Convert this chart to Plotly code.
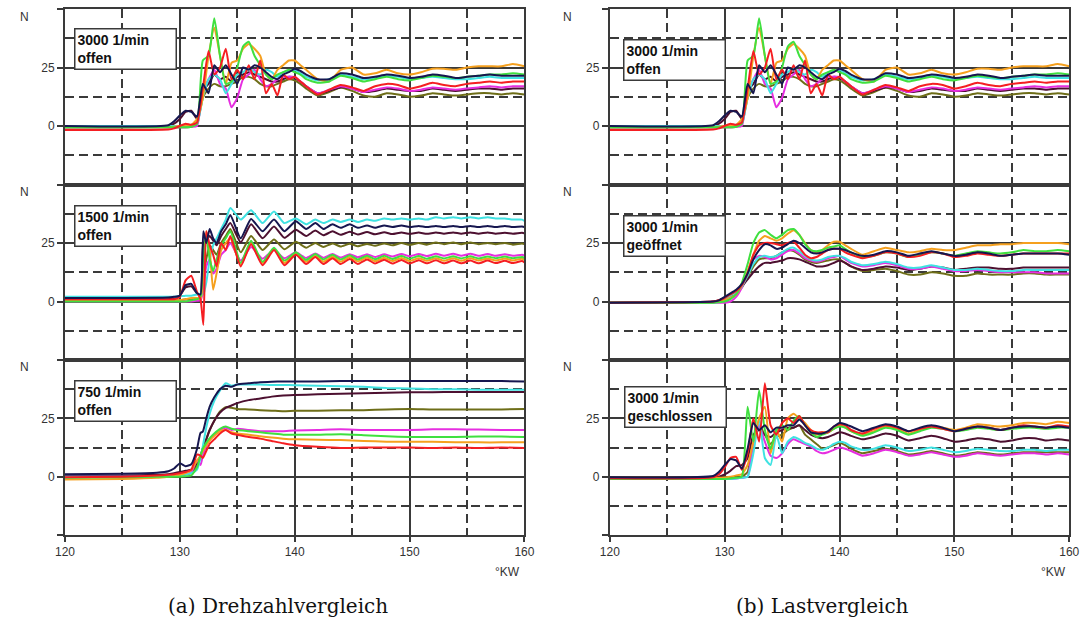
import plotly.graph_objects as go

W, H = 1091, 623

# ---------------- x grids (°KW) ----------------
X_A = [120, 129, 129.5, 130, 130.5, 131, 131.5, 132, 132.5, 133, 133.5, 134, 134.5, 135, 135.5,
       136, 136.5, 137, 137.5, 138, 138.5, 139, 139.5, 140, 140.5, 141, 142, 143, 144, 145,
       146, 147, 148, 149, 150, 151, 152, 153, 154, 155, 156, 157, 158, 159, 160]
X_B = [120, 129, 129.5, 130, 130.5, 131, 131.5, 131.8, 132.05, 132.3, 132.6, 132.9, 133.2, 133.6, 134.0,
       134.4, 135.3, 136.2, 137.2, 138.2, 139.1, 140.1, 141.0, 141.8, 142.5, 143.3, 144.0, 144.8, 145.5,
       146.3, 147.0, 147.8, 148.5, 149.3, 150.0, 150.8, 151.5, 152.3, 153.0, 153.8, 154.5, 155.3, 156.0,
       156.8, 157.5, 158.3, 159.0, 159.8, 160]
X_C = [120, 125, 128, 129, 129.5, 130, 130.5, 131, 131.5, 131.8, 132, 132.3, 132.6, 133, 133.5, 134,
       134.5, 135, 136, 137, 138, 139, 140, 142, 144, 146, 148, 150, 152, 154, 156, 158, 160]

# ---------------- 3000 1/min offen (grid A) ----------------
D3000_NAVY = [0, 0.3, 2, 4.5, 6.5, 6, 4, 18, 14, 26, 23, 26, 22, 18, 25, 24, 26, 25, 23, 21, 20, 22, 23,
              24.5, 23.5, 22, 20, 20, 22.5, 22, 20.5, 21, 22, 21.5, 20.5, 21, 22, 21.5, 20.5, 21, 21.5,
              22, 21.5, 21.5, 21.5]
D3000_ORANGE = [-0.5, -0.5, -0.3, 0, 0.3, 0.5, 3, 12, 30, 42, 30, 18, 27, 28, 33, 35, 33, 30, 22, 20, 24,
                26, 28, 28, 26, 24, 20, 19, 24, 25, 22, 22.5, 24, 22.5, 22, 23, 24.5, 24.5, 24, 25, 25.5,
                25.5, 25.5, 26.5, 25.5]
D3000_GREEN = [-0.5, -0.5, -0.5, -0.5, -0.5, -0.3, 1, 28, 30, 46, 30, 18, 19, 25, 34, 36, 30, 26, 22, 20,
               22, 23, 24, 23, 22, 20, 18.5, 19, 21.5, 20.5, 19, 20, 21, 20, 19.5, 20.5, 21.5, 21, 20.5,
               21, 21.5, 22, 22, 22.5, 22]
D3000_CYAN = [0, 0, 0, 0, 0.3, 0.5, 1, 12, 20, 22, 20, 14, 18, 22, 23, 25, 23, 22, 24, 23, 21, 23, 23.5,
              24, 22.5, 21, 19.5, 20, 22, 21, 20, 20.5, 21.5, 21, 20, 20.5, 21, 20.5, 20, 20, 20.5, 21,
              20.5, 20.5, 20.5]
D3000_RED = [-1.7, -1.5, -1, 0, 1, 0.5, 1.5, 16, 32, 22, 25, 33, 20, 24, 20, 26, 20, 28, 14, 18, 13, 22,
             20, 21, 19, 17, 13.5, 15.5, 17.5, 16.5, 15, 17, 18, 17.5, 16, 17, 18.5, 17.5, 17, 18, 18.5,
             19, 18.5, 19, 19]
D3000_MAGENTA = [-0.5, -0.5, -0.5, -0.5, -0.5, -0.3, 0, 15, 20, 24, 18, 16, 8, 12, 20, 22, 24, 20, 17, 18,
                 20, 21, 21, 21, 19, 17, 14, 15.5, 17, 16, 14.5, 15.5, 16.5, 16, 15, 15.5, 16.5, 16, 15.5,
                 16, 16.5, 17, 16.5, 17, 17]
D3000_MAROON = [-0.5, 0, 1, 3, 6, 6.5, 3, 15, 18, 22, 20, 21, 19, 21, 22, 23, 22, 21, 20, 19, 19, 20, 21,
                20.5, 19, 17, 14, 15, 16.5, 16, 14.5, 15, 16, 15.5, 15, 15, 16, 15.5, 15, 15.5, 16, 16,
                15.5, 16, 16]
D3000_OLIVE = [-0.5, -0.5, -0.5, -0.5, -0.5, -0.3, 1, 12, 16, 18, 17, 17, 18, 19, 21, 21, 20, 18, 17, 17,
               18, 19, 20, 19.5, 18, 16, 13, 14.5, 16.5, 15, 13, 12.5, 14, 13.5, 12.5, 13, 14, 13.5, 13,
               13.5, 14, 14, 13.5, 14, 13.5]

# ---------------- 1500 1/min offen (grid B) ----------------
D1500_NAVY = [1.5, 1.7, 2, 2.5, 7, 7.5, 3.5, 3, 30, 25, 31, 27, 25, 30, 33,
              37, 27, 35.3, 30, 35, 30, 34.3, 31, 33.5, 31, 33, 31.5, 33, 31.5, 32.5, 31.5, 32.5, 31.8,
              32.5, 31.8, 32.3, 31.8, 32.3, 31.8, 32.3, 31.8, 32.3, 31.8, 32.3, 31.8, 32.3, 31.8, 32, 31.8]
D1500_CYAN = [2, 2, 2, 2.2, 2.5, 2.5, 3, 3, 3, 8, 18, 24, 27, 31, 35,
              40, 35, 39, 33.5, 38.5, 33.5, 35.5, 33, 35, 33.5, 35, 34, 35, 34, 35, 34.5, 35.5, 35, 35.5,
              35, 35.5, 35, 36, 35.5, 36, 35.5, 36, 35.5, 36, 35.5, 35.5, 35, 35, 34.5]
D1500_MAROON = [1, 1, 1.5, 2.5, 6, 6.5, 3.5, 2.5, 25, 26, 28, 26, 24, 28, 31,
                33.5, 25.3, 33, 27, 32, 27.2, 30.7, 28, 30.3, 28.3, 30, 28.5, 29.8, 28.6, 29.7, 28.7,
                29.6, 28.8, 29.5, 28.9, 29.5, 28.9, 29.5, 29, 29.5, 29, 29.5, 29, 29.5, 29, 29.4, 29,
                29.4, 29.2]
D1500_OLIVE = [0.5, 0.5, 0.5, 0.5, 1, 1, 1, 1.5, 10, 18, 24, 22, 20, 25, 28,
               31, 21, 28, 22, 26.5, 22.3, 25.5, 23, 25, 23.3, 24.8, 23.5, 24.7, 23.6, 24.6, 23.8, 24.8,
               24, 25, 24.2, 25, 24.3, 25.2, 24.5, 25.2, 24.5, 25.2, 24.5, 25, 24.5, 25, 24.3, 24.8, 24.5]
D1500_MAGENTA = [0, 0, 0, 0, 0, 0, 0.3, 0.5, 5, 15, 18, 12, 14, 20, 22,
                 25, 17.5, 23.3, 18.3, 22, 18.5, 21, 18.6, 20.5, 18.7, 20.3, 18.8, 20.2, 18.9, 20.2, 19,
                 20.2, 19.2, 20.3, 19.3, 20.3, 19.4, 20.4, 19.5, 20.4, 19.5, 20.4, 19.5, 20.3, 19.5, 20.2,
                 19.5, 20, 19.6]
D1500_GREEN = [0, 0, 0, 0, 0, 0.5, 1, 2, 20, 28, 18, 13, 18, 24, 27,
               30, 16.5, 26, 17, 23, 17.5, 21, 17.8, 20.3, 18, 20, 18, 19.8, 18, 19.6, 18.1, 19.5, 18.2,
               19.4, 18.3, 19.4, 18.3, 19.3, 18.4, 19.3, 18.4, 19.3, 18.4, 19.2, 18.5, 19.2, 18.5, 19, 18.6]
D1500_ORANGE = [0.5, 0.5, 0.5, 0.5, 1, 1.5, 1.5, 1, 10, 30, 22, 5, 12, 22, 25,
                27, 15.5, 25, 16.5, 22.5, 16.5, 20.5, 17, 19.5, 17, 19.2, 17, 19, 17.1, 18.8, 17.2, 18.7,
                17.3, 18.6, 17.3, 18.5, 17.4, 18.5, 17.4, 18.5, 17.4, 18.5, 17.5, 18.4, 17.5, 18.4, 17.5,
                18.3, 17.8]
D1500_RED = [1, 1, 1, 2, 9, 11, 4, 1, -10, 30, 24, 20, 15, 25, 22,
             28, 15, 24.5, 15.5, 22, 15.5, 20, 16, 19, 16, 18.5, 16, 18.2, 16, 18, 16.2, 17.8, 16.2, 17.7,
             16.2, 17.6, 16.3, 17.6, 16.3, 17.5, 16.3, 17.5, 16.3, 17.5, 16.4, 17.4, 16.4, 17.3, 16.7]

# ---------------- 750 1/min offen (grid C) ----------------
D750_NAVY = [1, 1.3, 1.7, 2.3, 3.5, 5.7, 4.5, 5.3, 12, 18.8, 19.3, 25, 30, 34, 37.5, 39, 38.5, 39.5, 40,
             40.5, 40.7, 40.8, 40.8, 40.8, 41, 41, 41, 41, 41, 41, 41, 41, 40.8]
D750_CYAN = [0, 0, 0, 0.2, 0.3, 0.5, 1, 1.5, 3, 8, 13, 21, 27, 32.5, 37, 40, 39, 39.5, 39.5, 39.5, 39.3,
             39.3, 39.2, 39, 38.8, 38.5, 38, 37.8, 37.5, 37.5, 37.3, 37.3, 37.3]
D750_MAROON = [0.3, 0.5, 0.8, 1, 1.5, 2, 2.5, 3, 6, 9, 12, 16, 20, 24, 27.5, 29.5, 30.5, 31.5, 32.8, 33.5,
               34.3, 34.8, 35, 35.3, 35.5, 35.8, 36, 36.2, 36.2, 36.3, 36.3, 36.3, 36.3]
D750_OLIVE = [-0.3, 0, 0, 0, 0.2, 0.5, 1, 1.5, 5, 8.5, 12, 16, 20, 24, 28, 29.8, 29.5, 29, 28.8, 28.5,
              28.3, 28, 28.2, 28.3, 28.5, 28.5, 28.8, 29, 28.8, 28.8, 28.8, 28.8, 29]
D750_MAGENTA = [0, 0, 0, 0.2, 0.3, 0.5, 1, 2, 7, 5, 9, 13, 16, 18, 20, 21, 20, 20.5, 20, 19.5, 19.5, 19.5,
                19.8, 20, 20.3, 20, 20, 20, 20.3, 20.3, 20.2, 20, 20]
D750_GREEN = [-0.5, -0.3, 0, 0, 0, 0, 0.2, 0.5, 4, 9, 12, 14.5, 16.5, 18.5, 20.5, 21.5, 20.5, 20, 19.5, 19,
              18.5, 18, 18, 18, 18.2, 17.8, 17.3, 17, 17, 17, 17.2, 17.2, 17]
D750_ORANGE = [-1.2, -1, -0.5, 0, 0.3, 0.8, 1.5, 3, 7, 9, 11, 13.5, 15.5, 17.5, 19.5, 20, 19, 18.5, 18,
               17.3, 16.8, 16.3, 16, 15.8, 15.7, 15.3, 15, 15, 15, 14.8, 14.7, 14.7, 14.7]
D750_RED = [-0.3, 0, 0.5, 0.8, 1, 1.5, 2, 3, 9.5, 9, 8, 11, 14, 16, 18.5, 20, 18.5, 18, 17, 16.3, 15.3,
            14.3, 13.5, 12.8, 12.3, 12.5, 12.5, 12.5, 12.3, 12.5, 12.3, 12.5, 12.3]

# ---------------- 3000 1/min geöffnet (grid A) ----------------
G3000_NAVY = [-0.5, 0, 0.5, 2, 3.5, 5, 7.5, 12, 18, 22, 24.5, 24, 22.5, 23, 24.5, 26, 25, 23, 21, 20.5,
              21, 22, 22.5, 22.5, 22, 21, 19.5, 20, 21.5, 21, 19.5, 20.5, 21.5, 20.5, 19.5, 20, 21, 20.5,
              19.5, 20, 20.5, 20.5, 20.5, 20.5, 20]
G3000_GREEN = [-0.5, -0.5, -0.3, 0, 1, 3, 8, 16, 25, 29.5, 30.5, 28.5, 27, 28.5, 30.5, 31, 28.5, 24.5, 22,
               21.5, 22, 23, 23.5, 24, 22.5, 21, 19, 19.5, 21, 20.5, 19, 20, 21, 20.5, 19.5, 20.5, 21.5,
               21, 20.5, 21, 22, 21.5, 21.5, 22, 21.5]
G3000_ORANGE = [-0.5, -0.3, 0, 0.5, 1.5, 3, 7, 13, 20, 26, 28, 27, 26, 27, 29, 30.5, 28.5, 25, 22, 21, 22,
                24, 25.5, 25.5, 24, 22.5, 20, 21.5, 23, 22, 21, 21.5, 22.5, 22, 22, 23, 24, 24, 24.5, 24.5,
                25, 25, 25, 25, 24.5]
G3000_RED = [-0.5, 0, 0.5, 1.5, 3, 4.5, 7, 12, 20, 24, 25, 25, 24.5, 24, 25, 25.5, 23, 20, 18.5, 19, 20.5,
             22, 22.5, 22.5, 21, 20, 18.5, 19.5, 21, 20.5, 19, 19.5, 21, 20.5, 19, 19.5, 20.5, 20, 19.5,
             20, 20.5, 20.5, 20.5, 20.5, 20.5]
G3000_CYAN = [-0.5, -0.5, 0, 1, 2.5, 4, 6.5, 11, 16, 19, 19.5, 19, 19.5, 21, 22.5, 23, 21.5, 19.5, 18, 17.5,
              18, 19, 19.5, 19.5, 18.5, 17, 15.5, 16, 17, 16, 14.5, 14.5, 15.5, 14.5, 13.5, 13.5, 14, 13.5,
              13, 13, 13.5, 13.5, 13.5, 13.5, 13.5]
G3000_MAGENTA = [-0.5, -0.5, -0.5, -0.5, 0, 2, 6, 12, 18, 19.5, 19, 18, 18.5, 20, 21.5, 22, 20.5, 18.5,
                 17.5, 17, 17.5, 18.5, 19, 19.5, 18, 16.5, 15, 15.5, 16.5, 15.5, 14, 14, 15, 14, 13, 13,
                 13.5, 13, 12.5, 12.5, 12.5, 12.5, 12, 12, 12]
G3000_MAROON = [-0.5, 0, 0.5, 1.5, 3, 4.5, 6.5, 9.5, 12.5, 15, 16.5, 16.5, 17, 17.5, 18.5, 18.5, 18, 17,
                16, 15, 15, 15.5, 16.5, 17.5, 16.5, 15, 13.5, 14, 15, 14.5, 13.5, 14, 15, 14.5, 13.5, 14,
                14.5, 14.5, 14, 14, 14.5, 14.5, 14.5, 14.5, 14.5]
G3000_OLIVE = [-0.5, -0.5, 0, 0.5, 2, 3.5, 6, 10.5, 15, 18, 18.5, 18.5, 19.5, 21, 22, 21.5, 20, 18, 17,
               16.5, 17, 17.5, 18, 18, 16.5, 15, 13, 13.5, 14, 13, 11.5, 11.5, 12.5, 12, 11, 11, 12, 11.5,
               11.5, 11.5, 12, 12, 11.5, 11.5, 11.5]

# ---------------- 3000 1/min geschlossen (grid A) ----------------
S3000_NAVY = [-0.2, 0.3, 2, 5, 7.5, 7, 3.5, 12, 23, 20, 22, 19, 21, 21, 22, 22, 24.5, 22, 19, 18.5, 18.5,
              19.5, 21.5, 23, 22.5, 21.5, 19.5, 21, 22.5, 21.5, 19.5, 21, 22, 21, 19.5, 20.5, 21.5, 21,
              20, 21, 21.5, 21.5, 21, 21.5, 21]
S3000_RED = [-0.7, -0.3, 1, 4, 8, 8.5, 3, 10, 25, 15, 40, 22, 18, 23, 25, 23, 26, 22, 20, 19, 19, 19,
             21.5, 22.5, 22, 20, 18.5, 20.5, 22, 21, 19.5, 20.5, 21.5, 20.5, 19.5, 20.5, 21.5, 21, 20, 21,
             22, 21.5, 21, 22, 21.5]
S3000_ORANGE = [-0.5, -0.5, -0.5, -0.3, 0, 0.5, 1, 5, 15, 25, 30, 10, 20, 15, 25, 27, 25, 23, 20, 18, 19,
                19, 20.5, 22, 21, 19.5, 18, 19.5, 21.5, 20.5, 18.5, 20, 21.5, 21, 20, 21, 22.5, 22, 21.5,
                22, 23, 23, 22.5, 23.5, 23]
S3000_GREEN = [-1, -1, -1, -1, -0.8, -0.5, 0, 30, 15, 37, 20, 12, 20, 22, 20, 24, 26, 22, 19, 17, 18, 19,
               20.5, 21.5, 21, 19.5, 17.5, 19, 21, 20, 18, 19.5, 21, 20.5, 19.5, 20, 21, 20.5, 20, 20.5,
               21, 21, 20.5, 21, 21]
S3000_MAROON = [-1, -0.5, 0, 1, 2.5, 4.5, 5, 8, 18, 20, 18, 17, 19, 20, 21, 21, 22, 20, 18, 17, 16.5, 17,
                18, 19, 18.5, 17.5, 16, 17, 18.5, 17.5, 15.5, 16.5, 17.5, 16.5, 15, 15.5, 16.5, 16, 15,
                15.5, 16.5, 16.5, 15.5, 16, 15.5]
S3000_OLIVE = [-1, -1, -1, -1, -0.8, -0.5, 0, 2, 15, 22, 18, 14, 17, 18, 20, 21, 22, 18, 16, 14, 12, 12.5,
               13.5, 14.5, 13.5, 12, 10, 11, 12, 11, 9.5, 10, 11, 10, 9, 9.5, 10.5, 10, 9.5, 10, 10.5,
               10.5, 10.5, 10.5, 10.5]
S3000_CYAN = [-1, -1, -1, -1, -1, -0.8, -0.5, 0, 10, 25, 8, 5, 18, 10, 15, 17, 16, 14.5, 13.5, 12, 11.5,
              12.5, 14, 15, 14.5, 13, 11.5, 12, 13.5, 12.5, 11, 11.5, 12.5, 11.5, 10.5, 11, 12, 11.5, 11,
              11, 11.5, 11.5, 11, 11.5, 11.5]
S3000_MAGENTA = [-1, -1, -1, -1, -1, -0.8, -0.5, 0, 15, 22, 15, 9, 8, 10, 14, 16, 15, 14, 13, 11, 10, 10.5,
                 11.5, 12.5, 12, 11, 9, 10, 11.5, 10.5, 9, 9.5, 10.5, 9.5, 8.5, 9, 10, 9.5, 9, 9.5, 10, 10,
                 9.5, 10, 9.5]

# ---------------- labels ----------------
X_TICKS = [120, 130, 140, 150, 160]
X_MINOR = [125, 135, 145, 155]
Y_TICKS = [-25, 0, 25, 50]
Y_TICKTEXT = ["", "0", "25", ""]
Y_MINOR = [-12.5, 12.5, 37.5]
BOX_LABELS = ["3000 1/min<br>offen", "1500 1/min<br>offen", "750 1/min<br>offen",
              "3000 1/min<br>offen", "3000 1/min<br>geöffnet", "3000 1/min<br>geschlossen"]
CAPTIONS = ["(a) Drehzahlvergleich", "(b) Lastvergleich"]
Y_UNIT = "N"
X_UNIT = "°KW"

COLORS = {
    "olive": "#6e6e18", "maroon": "#4d1030", "magenta": "#e62ee0", "cyan": "#3fe2e2",
    "orange": "#f5a01e", "green": "#3fe03f", "red": "#f51e22", "navy": "#16164f",
}
ORDER = ["olive", "maroon", "magenta", "cyan", "orange", "green", "red", "navy"]


def series(prefix):
    g = globals()
    return {k: g[f"{prefix}_{k.upper()}"] for k in ORDER}


PANELS = [
    (X_A, series("D3000")), (X_B, series("D1500")), (X_C, series("D750")),
    (X_A, series("D3000")), (X_A, series("G3000")), (X_A, series("S3000")),
]

X_DOMS = [(56, 524), (611, 1079)]
ROWS = [(9, 184.5), (184.5, 360), (360, 535)]
BOX_POS = [(65, 28), (65, 205), (65, 380), (624, 39), (624, 215), (625, 386)]
N_POS = [(15, 17), (15, 192), (15, 367), (568, 17), (568, 192), (568, 367)]

GRID = "#3a3a3a"
GW = 2
TICKFONT = dict(family="Liberation Sans, Arial, sans-serif", size=12, color="#333")

fig = go.Figure()
layout = dict(width=W, height=H, margin=dict(l=0, r=0, t=0, b=0), autosize=False,
              paper_bgcolor="white", plot_bgcolor="white", showlegend=False)
annotations = []

for i, (xs, data) in enumerate(PANELS):
    col, row = divmod(i, 3)
    n = i + 1
    xname = "xaxis" if n == 1 else f"xaxis{n}"
    yname = "yaxis" if n == 1 else f"yaxis{n}"
    xref = "x" if n == 1 else f"x{n}"
    yref = "y" if n == 1 else f"y{n}"
    for key in ORDER:
        vals = data[key]
        assert len(vals) == len(xs), (i, key, len(vals), len(xs))
        fig.add_trace(go.Scatter(x=xs, y=vals, mode="lines", xaxis=xref, yaxis=yref,
                                 line=dict(color=COLORS[key], width=2, shape="spline", smoothing=0.5),
                                 hoverinfo="skip"))
    x0, x1 = X_DOMS[col]
    top, bot = ROWS[row]
    bottom_row = row == 2
    layout[xname] = dict(
        domain=[x0 / W, x1 / W], range=[120, 160], anchor=yref,
        tickvals=X_TICKS, showticklabels=bottom_row, ticks="outside" if bottom_row else "",
        ticklen=5, tickcolor=GRID, tickwidth=GW, tickfont=TICKFONT,
        showgrid=True, gridcolor=GRID, gridwidth=GW, zeroline=False,
        showline=True, linecolor=GRID, linewidth=GW, mirror=True,
        minor=dict(tickvals=X_MINOR, showgrid=True, gridcolor=GRID, gridwidth=GW,
                   griddash="9px,5px", ticks=""),
        fixedrange=True,
    )
    layout[yname] = dict(
        domain=[1 - bot / H, 1 - top / H], range=[-25, 50], anchor=xref,
        tickvals=Y_TICKS, ticktext=Y_TICKTEXT, ticks="outside", ticklen=6,
        tickcolor=GRID, tickwidth=GW, tickfont=TICKFONT,
        showgrid=True, gridcolor=GRID, gridwidth=GW, zeroline=False,
        showline=True, linecolor=GRID, linewidth=GW, mirror=True,
        minor=dict(tickvals=Y_MINOR, showgrid=True, gridcolor=GRID, gridwidth=GW,
                   griddash="9px,5px", ticks=""),
        fixedrange=True,
    )
    bx, by = BOX_POS[i]
    annotations.append(dict(
        xref="paper", yref="paper", x=bx / W, y=1 - by / H, xanchor="left", yanchor="top",
        text=f"<b>{BOX_LABELS[i]}</b>", showarrow=False, align="left", valign="middle",
        width=96, height=35, bordercolor=GRID, borderwidth=1.5, borderpad=2, bgcolor="white",
        font=dict(family="Liberation Sans, Arial, sans-serif", size=14, color="#111")))
    nx, ny = N_POS[i]
    annotations.append(dict(xref="paper", yref="paper", x=nx / W, y=1 - ny / H,
                            xanchor="center", yanchor="middle", text=Y_UNIT, showarrow=False,
                            font=TICKFONT))

for xr in (522, 1078):
    annotations.append(dict(xref="paper", yref="paper", x=xr / W, y=1 - 572 / H,
                            xanchor="right", yanchor="middle", text=X_UNIT, showarrow=False,
                            font=TICKFONT))
for cx, cap in zip((273, 828), CAPTIONS):
    annotations.append(dict(xref="paper", yref="paper", x=cx / W, y=1 - 606 / H,
                            xanchor="center", yanchor="middle", text=cap, showarrow=False,
                            font=dict(family="DejaVu Serif, serif", size=20, color="#111")))

layout["annotations"] = annotations
fig.update_layout(**layout)

fig.write_html("out.html", config={"displayModeBar": False, "staticPlot": True},
               post_script="document.body.style.margin='0';document.body.style.overflow='hidden';")
